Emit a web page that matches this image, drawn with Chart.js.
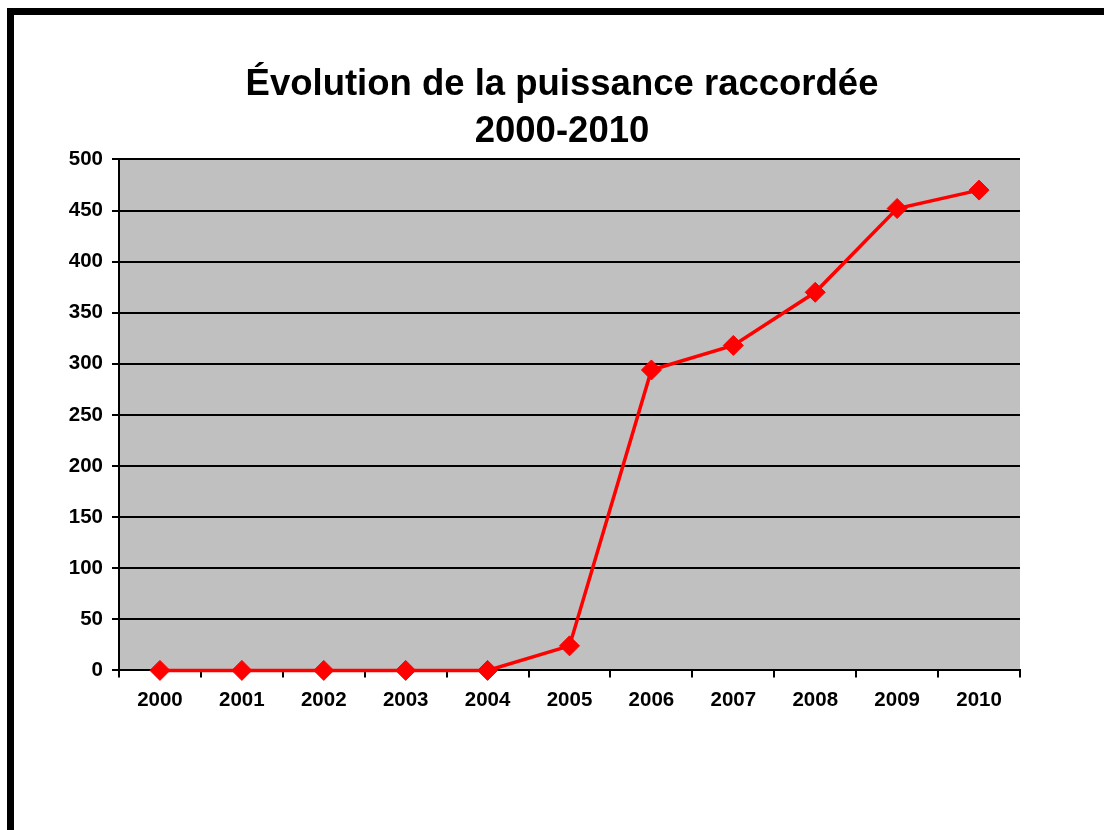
<!DOCTYPE html>
<html>
<head>
<meta charset="utf-8">
<script src="https://cdn.jsdelivr.net/npm/chart.js@4.4.1/dist/chart.umd.min.js"></script>
<style>
  html, body { margin: 0; padding: 0; background: #fff; }
  #wrap { position: relative; width: 1104px; height: 830px; overflow: hidden; }
  #frame { position: absolute; left: 7px; top: 8px; width: 1097px; height: 822px;
           border-top: 7px solid #000; border-left: 7px solid #000; box-sizing: border-box; }
  #c { position: absolute; left: 0; top: 0; }
</style>
</head>
<body>
<div id="wrap">
  <div id="frame"></div>
  <canvas id="c" width="1104" height="830"></canvas>
</div>
<script>
const titleLines = ["Évolution de la puissance raccordée", "2000-2010"];
const years = ["2000", "2001", "2002", "2003", "2004", "2005", "2006", "2007", "2008", "2009", "2010"];
const puissance = [0, 0, 0, 0, 0, 24, 294, 318, 370, 452, 470];
const yMin = 0;
const yMax = 500;
const yStep = 50;

const plotBg = {
  id: 'plotBg',
  beforeDraw(chart) {
    const a = chart.chartArea, ctx = chart.ctx;
    ctx.save();
    ctx.fillStyle = '#C0C0C0';
    ctx.fillRect(a.left, a.top, a.right - a.left, a.bottom - a.top);
    ctx.restore();
  }
};

const FONT = "'Liberation Sans', Arial, sans-serif";

new Chart(document.getElementById('c'), {
  type: 'line',
  data: {
    labels: years,
    datasets: [{
      data: puissance,
      yAxisID: 'y',
      borderColor: '#FF0000',
      backgroundColor: '#FF0000',
      borderWidth: 3.5,
      pointStyle: 'rectRot',
      pointRadius: 10,
      pointBorderWidth: 1,
      pointBackgroundColor: '#FF0000',
      pointBorderColor: '#FF0000',
      tension: 0,
      fill: false,
      clip: false
    }]
  },
  options: {
    responsive: false,
    animation: false,
    devicePixelRatio: 1,
    events: [],
    layout: { padding: { left: 20, right: 0, top: 0, bottom: 106 } },
    plugins: {
      legend: { display: false },
      tooltip: { enabled: false },
      title: {
        display: true,
        text: titleLines,
        color: '#000',
        font: { family: FONT, size: 36.5, weight: 'bold', lineHeight: 1.28 },
        padding: { top: 62, bottom: 4 }
      }
    },
    scales: {
      x: {
        type: 'category',
        offset: true,
        border: { display: true, color: '#000', width: 2 },
        grid: { offset: true, drawOnChartArea: false, drawTicks: true, tickLength: 7, color: '#000', lineWidth: 2 },
        ticks: { color: '#000', font: { family: FONT, size: 20.5, weight: 'bold' }, padding: 11, maxRotation: 0, autoSkip: false }
      },
      y: {
        position: 'left',
        min: yMin,
        max: yMax,
        border: { display: true, color: '#000', width: 2 },
        grid: { color: '#000', lineWidth: 2, drawTicks: true, tickLength: 7 },
        ticks: { stepSize: yStep, color: '#000', font: { family: FONT, size: 20.5, weight: 'bold' }, padding: 9 },
        afterFit(scale) { scale.width = 99; }
      },
      spacer: {
        type: 'linear',
        position: 'right',
        display: true,
        min: yMin,
        max: yMax,
        border: { display: false },
        grid: { display: false, drawTicks: false },
        ticks: { display: false },
        afterFit(scale) { scale.width = 84; }
      }
    }
  },
  plugins: [plotBg]
});
</script>
</body>
</html>
